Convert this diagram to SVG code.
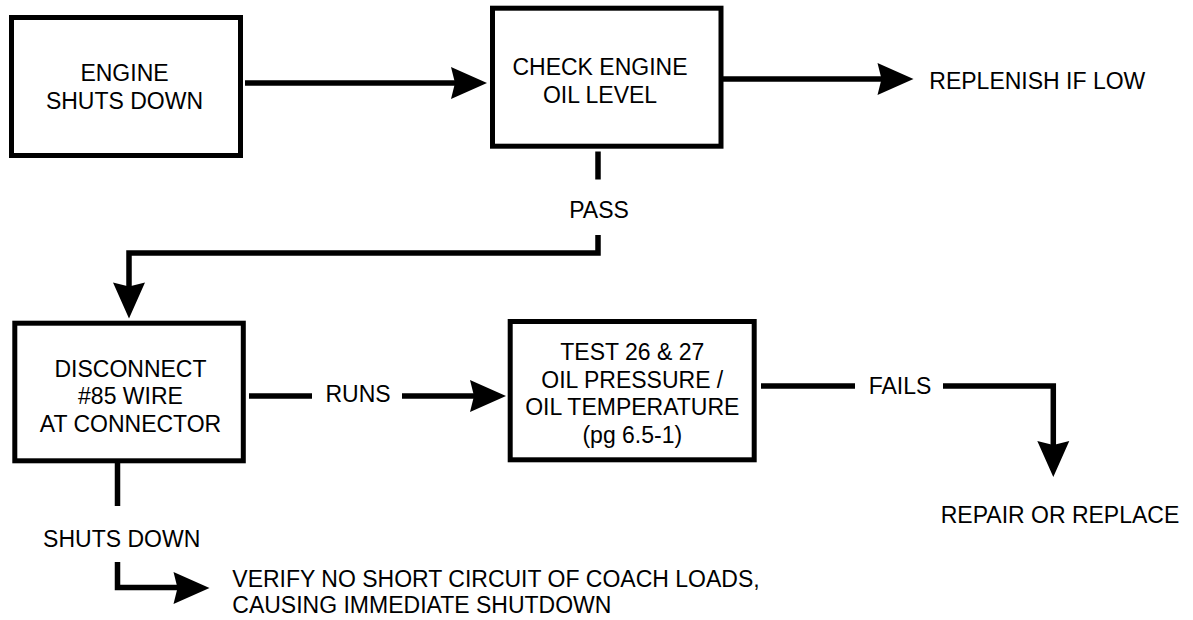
<svg xmlns="http://www.w3.org/2000/svg" width="1193" height="620" viewBox="0 0 1193 620">
  <style>
    .box { fill: #ffffff; stroke: #000000; stroke-width: 5; }
    .lbl { font-family: "Liberation Sans", Arial, sans-serif; font-size: 23px; fill: #000000; }
    .mid { text-anchor: middle; }
    .wire { fill: none; stroke: #000000; stroke-width: 5.5; stroke-linejoin: miter; stroke-linecap: butt; }
    .head { fill: #000000; }
  </style>
  <defs>
    <path id="ah" class="head" d="M0,0 L-36,-16 L-32,0 L-36,16 Z"/>
  </defs>
  <rect width="1193" height="620" fill="#ffffff"/>

  <g id="connectors">
    <path class="wire" d="M245,83 H455"/>
    <use href="#ah" transform="translate(487,83)"/>

    <path class="wire" d="M723,79 H882"/>
    <use href="#ah" transform="translate(913.5,79)"/>

    <path class="wire" d="M598,151.5 V179.5"/>
    <path class="wire" d="M598,235 V253 H129 V288"/>
    <use href="#ah" transform="translate(129,318.5) rotate(90)"/>
    <text class="lbl mid" x="599" y="218.3">PASS</text>

    <path class="wire" d="M249,396 H312"/>
    <path class="wire" d="M402,396 H476"/>
    <use href="#ah" transform="translate(506,396)"/>
    <text class="lbl mid" x="358" y="401.7">RUNS</text>

    <path class="wire" d="M761,386 H855"/>
    <path class="wire" d="M943,386 H1053.3 V446"/>
    <use href="#ah" transform="translate(1053.3,477) rotate(90)"/>
    <text class="lbl mid" x="900" y="394.3">FAILS</text>

    <path class="wire" d="M117.5,463 V506"/>
    <text class="lbl mid" x="121.7" y="546.7">SHUTS DOWN</text>
    <path class="wire" d="M117.5,562 V587.5 H179"/>
    <use href="#ah" transform="translate(209.5,588)"/>
  </g>

  <g id="engine-shuts-down">
    <rect class="box" x="11.5" y="17.5" width="229" height="138"/>
    <text class="lbl mid" x="124.5" y="81">ENGINE</text>
    <text class="lbl mid" x="124.5" y="108.7">SHUTS DOWN</text>
  </g>

  <g id="check-engine-oil-level">
    <rect class="box" x="492.5" y="8.2" width="228.5" height="138"/>
    <text class="lbl mid" x="600" y="75">CHECK ENGINE</text>
    <text class="lbl mid" x="600" y="103.3">OIL LEVEL</text>
  </g>

  <g id="replenish-if-low">
    <text class="lbl" x="929.3" y="89.3">REPLENISH IF LOW</text>
  </g>

  <g id="disconnect-85-wire">
    <rect class="box" x="14.8" y="323.2" width="228.5" height="137.6"/>
    <text class="lbl mid" x="130.5" y="377.3">DISCONNECT</text>
    <text class="lbl mid" x="130.5" y="404.3">#85 WIRE</text>
    <text class="lbl mid" x="130.5" y="432.3">AT CONNECTOR</text>
  </g>

  <g id="test-26-27">
    <rect class="box" x="510.2" y="321.5" width="244" height="138.3"/>
    <text class="lbl mid" x="632.3" y="360">TEST 26 &amp; 27</text>
    <text class="lbl mid" x="632.3" y="387.5">OIL PRESSURE /</text>
    <text class="lbl mid" x="632.3" y="415">OIL TEMPERATURE</text>
    <text class="lbl mid" x="632.3" y="442.5">(pg 6.5-1)</text>
  </g>

  <g id="repair-or-replace">
    <text class="lbl mid" x="1060" y="522.7">REPAIR OR REPLACE</text>
  </g>

  <g id="verify-no-short">
    <text class="lbl" x="232.3" y="587.3">VERIFY NO SHORT CIRCUIT OF COACH LOADS,</text>
    <text class="lbl" x="232.3" y="613.3">CAUSING IMMEDIATE SHUTDOWN</text>
  </g>
</svg>
